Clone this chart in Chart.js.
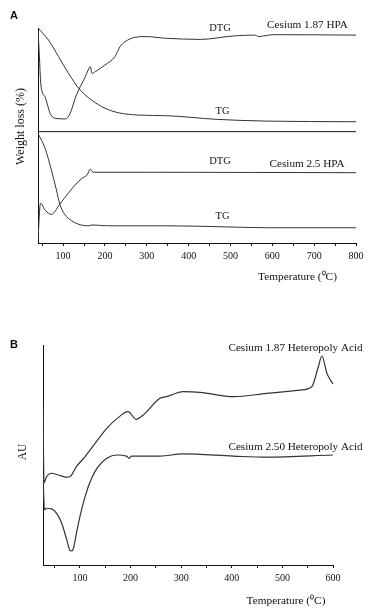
<!DOCTYPE html>
<html>
<head>
<meta charset="utf-8">
<script src="https://cdn.jsdelivr.net/npm/chart.js@4.4.0/dist/chart.umd.min.js"></script>
<style>
  html, body { margin: 0; padding: 0; background: #fff; }
  body { width: 369px; height: 610px; position: relative; overflow: hidden; }
  .panel { position: absolute; left: 0; width: 369px; }
  .letter { position: absolute; font: bold 11px "Liberation Sans", Arial, sans-serif; color: #111; line-height: 12px; }
</style>
</head>
<body>
<div class="panel" style="top:0;height:295px"><canvas id="chartA"></canvas></div>
<div class="panel" style="top:300px;height:310px"><canvas id="chartB"></canvas></div>
<div class="letter" style="left:10px;top:9px">A</div>
<div class="letter" style="left:10px;top:338px">B</div>
<script>
// Panel A - thermogravimetry, two samples stacked on one axis (arbitrary units)
const tgA187Temp = [40, 65, 89, 113, 137, 168, 200, 232, 280, 348, 468, 587, 800];
const tgA187 = [100, 94.4, 86.7, 78.9, 72, 66.5, 62.7, 60.6, 59.5, 59.2, 57.5, 56.7, 56.4];

const dtgA187Temp = [40, 43, 47, 57, 69, 81, 105, 117, 129, 141, 153, 160, 165, 169, 177, 200, 224, 236, 248, 272, 296, 348, 428, 507, 559, 567, 579, 602, 800];
const dtgA187 = [99, 88, 73.5, 67.9, 60.3, 58, 57.7, 60.3, 67.4, 72.7, 77.3, 80.5, 82, 78.9, 79.7, 82.8, 86.7, 91.3, 93.6, 95.7, 96, 95.2, 94.7, 96.3, 96.7, 96, 96.3, 96.9, 96.7];

const tgA25Temp = [40, 57, 73, 84, 92, 104, 120, 136, 160, 169, 208, 296, 348, 468, 588, 800];
const tgA25 = [51, 44, 33.2, 24.7, 18.1, 13.3, 10.4, 8.8, 8, 8.4, 8, 8, 8, 7.6, 7.1, 7.1];

const dtgA25Temp = [40, 46, 57, 72, 92, 112, 129, 145, 157, 165, 172, 296, 800];
const dtgA25 = [2, 18.5, 15.3, 13.3, 18.1, 23.1, 27, 30.1, 31.6, 34.3, 32.9, 32.9, 32.7];

const splitLevelA = 51.8;
const ticksA = [50, 100, 150, 200, 250, 300, 350, 400, 450, 500, 550, 600, 650, 700, 750, 800];

// Panel B - AU traces
const auB187Temp = [27, 29, 34, 44, 57, 74, 80, 93, 110, 130, 153, 176, 195, 211, 225, 258, 271, 304, 337, 403, 469, 535, 558, 571, 578, 588, 600];
const auB187 = [72, 37.3, 40.1, 41.7, 40.9, 39.9, 40.1, 44.7, 49.2, 55.3, 62.1, 67.1, 69.7, 66.2, 68.2, 75.8, 76.5, 78.8, 78.5, 76.5, 78, 79.5, 81, 90.1, 95, 87.1, 82.3];

const auB250Temp = [27, 30, 34, 44, 54, 64, 74, 80, 84, 88, 93, 100, 110, 123, 136, 153, 173, 192, 197, 202, 219, 258, 304, 403, 469, 600];
const auB250 = [40.1, 25, 25.8, 25.5, 23.5, 19, 11.4, 6.8, 6.4, 8.3, 14.4, 22, 31, 39.4, 44.7, 48.5, 50, 49.5, 48.5, 49.5, 49.5, 49.5, 50.5, 49.5, 49, 50];

const ticksB = [50, 100, 150, 200, 250, 300, 350, 400, 450, 500, 550, 600];

const SERIF = '"Liberation Serif", "Times New Roman", serif';
const INK = '#111';
const LINE = '#333';

function pts(xs, ys) {
    return xs.map((x, i) => ({ x: x, y: ys[i] }));
}

function curve(xs, ys, width) {
    return {
        data: pts(xs, ys),
        borderColor: LINE,
        borderWidth: width,
        pointRadius: 0,
        cubicInterpolationMode: 'monotone',
        fill: false
    };
}

// draws curve labels at data positions and axis titles at canvas positions
function textPlugin(labels, titles) {
    return {
        id: 'panelText',
        afterDraw(chart) {
            const ctx = chart.ctx;
            const xs = chart.scales.x, ys = chart.scales.y;
            ctx.save();
            ctx.fillStyle = INK;
            ctx.textAlign = 'center';
            ctx.textBaseline = 'middle';
            labels.forEach(l => {
                ctx.font = l.size + 'px ' + SERIF;
                ctx.fillText(l.text, xs.getPixelForValue(l.x), ys.getPixelForValue(l.y));
            });
            titles.forEach(t => {
                ctx.save();
                ctx.font = t.size + 'px ' + SERIF;
                ctx.translate(t.px, t.py);
                if (t.rotate) ctx.rotate(-Math.PI / 2);
                ctx.fillText(t.text, 0, 0);
                ctx.restore();
            });
            ctx.restore();
        }
    };
}

function makeOptions(xMin, xMax, tickList, axisHeight, pad) {
    return {
        responsive: true,
        maintainAspectRatio: false,
        animation: false,
        layout: { padding: pad },
        plugins: { legend: { display: false }, tooltip: { enabled: false } },
        scales: {
            x: {
                type: 'linear',
                min: xMin,
                max: xMax,
                afterBuildTicks: s => { s.ticks = tickList.map(v => ({ value: v })); },
                afterFit: s => { s.height = axisHeight; },
                ticks: {
                    autoSkip: false,
                    maxRotation: 0,
                    padding: 4,
                    color: INK,
                    font: { family: SERIF, size: 10 },
                    callback: v => (v % 100 === 0 ? String(v) : '')
                },
                grid: { drawOnChartArea: false, drawTicks: true, tickLength: 3, color: INK },
                border: { display: true, color: INK, width: 1 }
            },
            y: {
                min: 0,
                max: 100,
                afterFit: s => { s.width = 0; },
                ticks: { display: false },
                grid: { drawOnChartArea: false, drawTicks: false },
                border: { display: true, color: INK, width: 1 }
            }
        }
    };
}

new Chart(document.getElementById('chartA'), {
    type: 'line',
    data: {
        datasets: [
            curve(tgA187Temp, tgA187, 1),
            curve(dtgA187Temp, dtgA187, 1),
            curve(tgA25Temp, tgA25, 1),
            curve(dtgA25Temp, dtgA25, 1),
            { data: pts([40, 800], [splitLevelA, splitLevelA]), borderColor: INK, borderWidth: 1, pointRadius: 0, tension: 0 }
        ]
    },
    options: makeOptions(40, 800, ticksA, 52, { left: 38, top: 28, right: 13, bottom: 0 }),
    plugins: [textPlugin([
        { text: 'DTG', x: 475, y: 100, size: 10.5 },
        { text: 'Cesium 1.87 HPA', x: 684, y: 101.4, size: 11.2 },
        { text: 'TG', x: 481, y: 61.4, size: 10.5 },
        { text: 'DTG', x: 475, y: 38.1, size: 10.5 },
        { text: 'Cesium 2.5 HPA', x: 683, y: 36.7, size: 11.2 },
        { text: 'TG', x: 481, y: 12.3, size: 10.5 }
    ], [
        { text: 'Weight loss (%)', px: 21, py: 126.5, size: 12, rotate: true },
        { text: 'Temperature (\u2070C)', px: 297.5, py: 277, size: 11.3 }
    ])]
});

new Chart(document.getElementById('chartB'), {
    type: 'line',
    data: {
        datasets: [
            curve(auB187Temp, auB187, 1.2),
            curve(auB250Temp, auB250, 1.2)
        ]
    },
    options: makeOptions(27, 600, ticksB, 45, { left: 43, top: 45, right: 36, bottom: 0 }),
    plugins: [textPlugin([
        { text: 'Cesium 1.87 Heteropoly Acid', x: 526, y: 98.6, size: 11.2 },
        { text: 'Cesium 2.50 Heteropoly Acid', x: 526, y: 53.6, size: 11.2 }
    ], [
        { text: 'AU', px: 23, py: 152, size: 11.5, rotate: true },
        { text: 'Temperature (\u2070C)', px: 286, py: 301, size: 11.3 }
    ])]
});
</script>
</body>
</html>
